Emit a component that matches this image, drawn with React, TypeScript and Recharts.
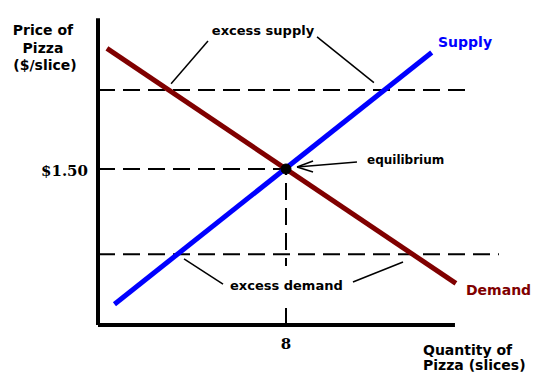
import { LineChart, Line, XAxis, YAxis, ReferenceLine, ReferenceDot } from 'recharts'

// supply & demand curves (quantity in slices, price in $/slice)
const supplyQty = [0.7, 14.2]
const supplyPrice = [0.2, 2.62]
const demandQty = [0.38, 15.23]
const demandPrice = [2.66, 0.4]

const eqQty = 8
const eqPrice = 1.5
const highPrice = 2.26
const lowPrice = 0.68

const xTicks = [8]
const yTicks = [1.5]

// leader lines for the annotations, [x1, y1, x2, y2] in data units
const leaders = [
  [4.68, 2.73, 3.11, 2.32],
  [9.32, 2.77, 11.74, 2.33],
  [3.66, 0.635, 5.32, 0.394],
  [10.85, 0.413, 12.98, 0.606],
  [11.02, 1.567, 8.47, 1.519],
  [8.47, 1.519, 9.15, 1.577],
  [8.47, 1.519, 9.15, 1.471],
]

const supplyData = supplyQty.map((q, i) => ({ qty: q, price: supplyPrice[i] }))
const demandData = demandQty.map((q, i) => ({ qty: q, price: demandPrice[i] }))

const DASH = '17 8'
const sans = 'DejaVu Sans, Verdana, sans-serif'
const serif = 'DejaVu Serif, serif'

export default function App() {
  return (
    <div style={{ position: 'absolute', left: 0, top: 0, width: 552, height: 387, background: '#fff' }}>
      <LineChart width={552} height={387} margin={{ top: 13, right: 31, left: 0, bottom: 0 }}>
        <XAxis
          type="number"
          dataKey="qty"
          domain={[0, 18]}
          ticks={xTicks}
          height={62}
          axisLine={false}
          tickLine={false}
          tickMargin={7}
          tick={{ fontFamily: serif, fontWeight: 'bold', fontSize: 15, fill: '#000' }}
        />
        <YAxis
          type="number"
          domain={[0, 3]}
          ticks={yTicks}
          width={98}
          axisLine={false}
          tickLine={false}
          tickMargin={4}
          tickFormatter={(v: number) => '$' + v.toFixed(2)}
          tick={{ fontFamily: serif, fontWeight: 'bold', fontSize: 15, fill: '#000', dy: 2 }}
        />
        {/* axes */}
        <ReferenceLine segment={[{ x: 0, y: 0 }, { x: 0, y: 2.95 }]} stroke="#000" strokeWidth={4} />
        <ReferenceLine segment={[{ x: 0, y: 0 }, { x: 15.19, y: 0 }]} stroke="#000" strokeWidth={4} />
        {/* dashed guides */}
        <ReferenceLine segment={[{ x: 0, y: highPrice }, { x: 15.7, y: highPrice }]} stroke="#000" strokeWidth={2} strokeDasharray={DASH} />
        <ReferenceLine segment={[{ x: 0, y: lowPrice }, { x: 17.06, y: lowPrice }]} stroke="#000" strokeWidth={2} strokeDasharray={DASH} />
        <ReferenceLine segment={[{ x: 0, y: eqPrice }, { x: eqQty, y: eqPrice }]} stroke="#000" strokeWidth={2} strokeDasharray={DASH} />
        <ReferenceLine segment={[{ x: eqQty, y: 0 }, { x: eqQty, y: eqPrice }]} stroke="#000" strokeWidth={2} strokeDasharray={DASH} />
        {leaders.map((l, i) => (
          <ReferenceLine key={i} segment={[{ x: l[0], y: l[1] }, { x: l[2], y: l[3] }]} stroke="#000" strokeWidth={1.5} />
        ))}
        <Line data={supplyData} dataKey="price" stroke="#0000ff" strokeWidth={5} dot={false} isAnimationActive={false} />
        <Line data={demandData} dataKey="price" stroke="#800000" strokeWidth={5} dot={false} isAnimationActive={false} />
        <ReferenceDot x={eqQty} y={eqPrice} r={5} fill="#000" stroke="#000" />
      </LineChart>
      <svg width={552} height={387} style={{ position: 'absolute', left: 0, top: 0, pointerEvents: 'none' }}>
        {/* label background breaks the vertical guide like in the original */}
        <rect x={226} y={266} width={120} height={34} fill="#fff" />
        <g fontFamily={sans} fontWeight="bold" fontSize={14} fill="#000">
          <text x={43} y={35} textAnchor="middle">Price of</text>
          <text x={43} y={53} textAnchor="middle">Pizza</text>
          <text x={45} y={70} textAnchor="middle">($/slice)</text>
          <text x={423} y={355}>Quantity of</text>
          <text x={423} y={370}>Pizza (slices)</text>
          <text x={438} y={47} fill="#0000ff">Supply</text>
          <text x={466} y={295} fill="#800000">Demand</text>
          <text x={263} y={35} textAnchor="middle" fontSize={13}>excess supply</text>
          <text x={230} y={290} fontSize={13}>excess demand</text>
          <text x={367} y={164} fontSize={12}>equilibrium</text>
        </g>
      </svg>
    </div>
  )
}
